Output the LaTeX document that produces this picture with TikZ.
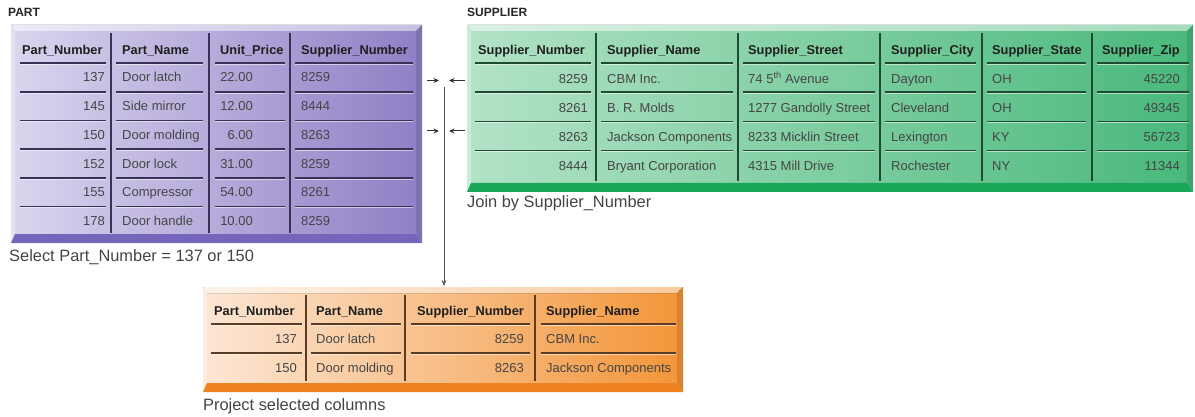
\documentclass[tikz,border=0pt]{standalone}
\usepackage{fontspec}
\setmainfont{Liberation Sans}
\usetikzlibrary{arrows.meta}
\definecolor{pL}{HTML}{DAD4EE}
\definecolor{pR}{HTML}{9080C6}
\definecolor{pB}{HTML}{7565BB}
\definecolor{pRule}{HTML}{3A3256}
\definecolor{gL}{HTML}{B2E2C6}
\definecolor{gR}{HTML}{4AB97C}
\definecolor{gB}{HTML}{19A85A}
\definecolor{gRule}{HTML}{1E4A32}
\definecolor{oL}{HTML}{FCE6D4}
\definecolor{oR}{HTML}{F3963A}
\definecolor{oB}{HTML}{EF8322}
\definecolor{oRule}{HTML}{5B3B22}
\definecolor{txt}{HTML}{454545}
\newcommand{\BevelBox}[7]{%
  \fill[left color=#5, right color=#6] (#1+4,#2+6) rectangle (#3-6,#4-9);
  \fill[left color=#5!50!white, right color=#6!50!white] (#1,#2) -- (#3,#2) -- (#3-6,#2+6) -- (#1+4,#2+6) -- cycle;
  \fill[#5!70!white] (#1,#2) -- (#1+4,#2+6) -- (#1+4,#4-9) -- (#1,#4) -- cycle;
  \fill[#6!88!black] (#3,#2) -- (#3,#4) -- (#3-6,#4-9) -- (#3-6,#2+6) -- cycle;
  \fill[#7] (#1,#4) -- (#3,#4) -- (#3-6,#4-9) -- (#1+4,#4-9) -- cycle;
}
\newcommand{\HRule}[4]{% x1 x2 y color
  \draw[#4, line width=1.7pt] (#1,#3) -- (#2,#3);
  \draw[white, opacity=0.55, line width=0.9pt] (#1,#3+1.3) -- (#2,#3+1.3);
}
\begin{document}
\begin{tikzpicture}[x=1pt,y=-1pt,
  hdr/.style={font=\fontsize{12.8}{14}\selectfont\bfseries, text=black!88, inner sep=0pt, text height=9.2pt, text depth=0pt},
  cell/.style={font=\fontsize{13}{15}\selectfont, text=txt, inner sep=0pt, text height=9.3pt, text depth=0pt},
  title/.style={font=\fontsize{12}{14}\selectfont\bfseries, text=black!85, inner sep=0pt, anchor=west, text height=8.7pt, text depth=0pt},
  caption/.style={font=\fontsize{16.4}{18}\selectfont, text=txt, inner sep=0pt, anchor=west, text height=11.8pt, text depth=0pt},
  vsep/.style={line width=1.6pt},
  arr/.style={draw=black!80, line width=1pt, -{Stealth[length=5.5pt,width=5pt]}},
  arrv/.style={draw=black!65, line width=1pt, -{Stealth[length=6pt,width=5pt]}}]
\useasboundingbox (0,0) rectangle (1195,417);
\fill[white] (0,0) rectangle (1195,417);

% ---------------- PART ----------------
\node[title] (parttitle) at (8,12) {PART};
\BevelBox{11}{25}{422}{243}{pL}{pR}{pB}
\foreach \x in {111,209,290} \draw[pRule, vsep] (\x,33) -- (\x,233);
\foreach \k in {0,...,5} {
  \pgfmathsetmacro\ry{63+\k*28.7}
  \HRule{20}{106}{\ry}{pRule}
  \HRule{116}{203}{\ry}{pRule}
  \HRule{215}{285}{\ry}{pRule}
  \HRule{295}{413}{\ry}{pRule}
}
\node[hdr,anchor=west] (ph1) at (22,50) {Part\_Number};
\node[hdr,anchor=west] (ph2) at (122,50) {Part\_Name};
\node[hdr,anchor=west] (ph3) at (220,50) {Unit\_Price};
\node[hdr,anchor=west] (ph4) at (301,50) {Supplier\_Number};
\foreach \a/\b/\c/\d [count=\i] in {137/Door latch/22.00/8259, 145/Side mirror/12.00/8444, 150/Door molding/6.00/8263, 152/Door lock/31.00/8259, 155/Compressor/54.00/8261, 178/Door handle/10.00/8259} {
  \pgfmathsetmacro\yy{77.3+(\i-1)*28.7}
  \node[cell,anchor=east] (p\i a) at (105,\yy) {\a};
  \node[cell,anchor=west] (p\i b) at (122,\yy) {\b};
  \node[cell,anchor=east] (p\i c) at (253,\yy) {\c};
  \node[cell,anchor=west] (p\i d) at (301,\yy) {\d};
}
\node[caption] (partcap) at (9,256) {Select Part\_Number = 137 or 150};

% ---------------- SUPPLIER ----------------
\node[title] (suptitle) at (467,12) {SUPPLIER};
\BevelBox{467}{25}{1193}{192}{gL}{gR}{gB}
\foreach \x in {596,738,880,982,1092} \draw[gRule, vsep] (\x,33) -- (\x,181);
\foreach \k in {0,...,3} {
  \pgfmathsetmacro\ry{63+\k*29.2}
  \HRule{475}{591}{\ry}{gRule}
  \HRule{601}{733}{\ry}{gRule}
  \HRule{743}{875}{\ry}{gRule}
  \HRule{885}{976}{\ry}{gRule}
  \HRule{987}{1086}{\ry}{gRule}
  \HRule{1097}{1189}{\ry}{gRule}
}
\node[hdr,anchor=west] (sh1) at (478,50) {Supplier\_Number};
\node[hdr,anchor=west] (sh2) at (607,50) {Supplier\_Name};
\node[hdr,anchor=west] (sh3) at (748,50) {Supplier\_Street};
\node[hdr,anchor=west] (sh4) at (891,50) {Supplier\_City};
\node[hdr,anchor=west] (sh5) at (992,50) {Supplier\_State};
\node[hdr,anchor=west] (sh6) at (1102,50) {Supplier\_Zip};
\foreach \a/\b/\c/\d/\e/\f [count=\i] in {8259/CBM Inc./{74 5\textsuperscript{th} Avenue}/Dayton/OH/45220, 8261/B. R. Molds/1277 Gandolly Street/Cleveland/OH/49345, 8263/Jackson Components/8233 Micklin Street/Lexington/KY/56723, 8444/Bryant Corporation/4315 Mill Drive/Rochester/NY/11344} {
  \pgfmathsetmacro\yy{78.6+(\i-1)*29.2}
  \node[cell,anchor=east] (s\i a) at (588,\yy) {\a};
  \node[cell,anchor=west] (s\i b) at (607,\yy) {\b};
  \node[cell,anchor=west] (s\i c) at (748,\yy) {\c};
  \node[cell,anchor=west] (s\i d) at (891,\yy) {\d};
  \node[cell,anchor=west] (s\i e) at (992,\yy) {\e};
  \node[cell,anchor=east] (s\i f) at (1180,\yy) {\f};
}
\node[caption] (supcap) at (467,202) {Join by Supplier\_Number};

% ---------------- RESULT ----------------
\BevelBox{203}{287}{683}{392}{oL}{oR}{oB}
\foreach \x in {306,405,535} \draw[oRule, vsep] (\x,295) -- (\x,381);
\foreach \k in {0,1} {
  \pgfmathsetmacro\ry{324+\k*29}
  \HRule{211}{302}{\ry}{oRule}
  \HRule{311}{401}{\ry}{oRule}
  \HRule{411}{530}{\ry}{oRule}
  \HRule{541}{676}{\ry}{oRule}
}
\node[hdr,anchor=west] (rh1) at (214,311) {Part\_Number};
\node[hdr,anchor=west] (rh2) at (316,311) {Part\_Name};
\node[hdr,anchor=west] (rh3) at (417,311) {Supplier\_Number};
\node[hdr,anchor=west] (rh4) at (546,311) {Supplier\_Name};
\foreach \a/\b/\c/\d [count=\i] in {137/Door latch/8259/CBM Inc., 150/Door molding/8263/Jackson Components} {
  \pgfmathsetmacro\yy{338.5+(\i-1)*29}
  \node[cell,anchor=east] (r\i a) at (297,\yy) {\a};
  \node[cell,anchor=west] (r\i b) at (316,\yy) {\b};
  \node[cell,anchor=east] (r\i c) at (524,\yy) {\c};
  \node[cell,anchor=west] (r\i d) at (546,\yy) {\d};
}
\node[caption] (rescap) at (203,405) {Project selected columns};

% ---------------- connectors ----------------
\coordinate (j1a) at (427,80.5);  \coordinate (j1b) at (439,80.5);
\coordinate (j1c) at (465,80.5);  \coordinate (j1d) at (449,80.5);
\coordinate (j2a) at (427,131);   \coordinate (j2b) at (439,131);
\coordinate (j2c) at (465,131);   \coordinate (j2d) at (449,131);
\draw[arr] (j1a) -- (j1b);
\draw[arr] (j1c) -- (j1d);
\draw[arr] (j2a) -- (j2b);
\draw[arr] (j2c) -- (j2d);
\coordinate (vtop) at (444,87);
\coordinate (vbot) at (444,286);
\draw[arrv] (vtop) -- (vbot);
\end{tikzpicture}
\end{document}
